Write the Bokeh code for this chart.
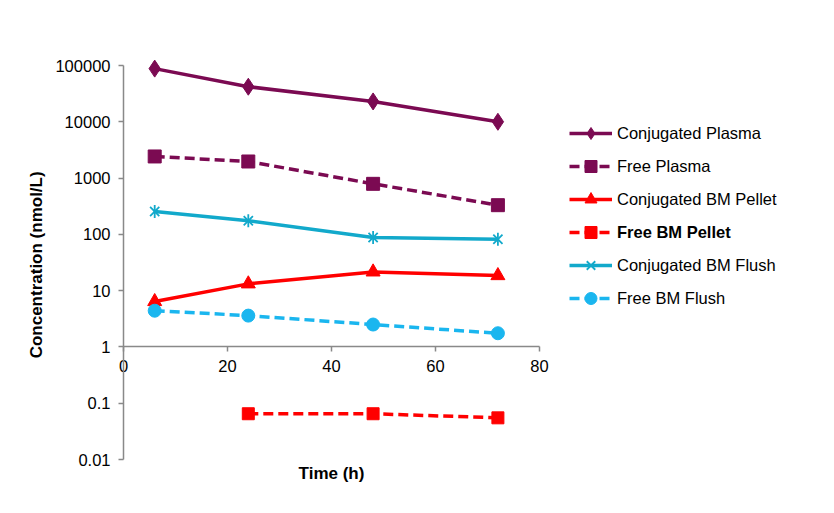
import numpy as np
from bokeh.plotting import figure
from bokeh.models import (Range1d, FixedTicker, LinearAxis, LogAxis, CustomJSTickFormatter,
                          Legend, LegendItem, Label)
from bokeh.embed import file_html
from bokeh.resources import INLINE

time_h = [6, 24, 48, 72]
conj_plasma = [88000, 42000, 23000, 10000]
free_plasma = [2420, 1970, 790, 330]
conj_bm_pellet = [6.4, 13.2, 21.5, 18.5]
free_bm_pellet_t = [24, 48, 72]
free_bm_pellet = [0.065, 0.065, 0.055]
conj_bm_flush = [255, 175, 88, 82]
free_bm_flush = [4.4, 3.6, 2.5, 1.75]

y_ticks = [0.01, 0.1, 1, 10, 100, 1000, 10000, 100000]
x_ticks = [0, 20, 40, 60, 80]

PURPLE = "#7B0A52"
RED = "#FF0000"
TEAL = "#12A9CB"
LBLUE = "#1AB6EF"
FONT = "Liberation Sans"
FS = "16.5px"

W, H = 818, 497
AX_X, AX_TOP, AX_BOT = 123, 65, 459      # pixel positions of y-axis, 1e5 and 0.01
PX_PER_X = 416 / 80
PX_PER_DEC = (AX_BOT - AX_TOP) / 7
x0 = -AX_X / PX_PER_X
x1 = (W - AX_X) / PX_PER_X
ytop = 10 ** (5 + AX_TOP / PX_PER_DEC)
ybot = 10 ** (-2 - (H - AX_BOT) / PX_PER_DEC)

p = figure(frame_width=W, frame_height=H, y_axis_type="log",
           x_range=Range1d(x0, x1), y_range=Range1d(ybot, ytop),
           output_backend="svg", toolbar_location=None,
           min_border=0, x_axis_location=None, y_axis_location=None)
p.outline_line_color = None
p.xgrid.visible = False
p.ygrid.visible = False
p.background_fill_color = "white"

GRAY = "#898989"


def style(ax):
    ax.major_label_text_font = FONT
    ax.major_label_text_font_size = FS
    ax.major_label_text_color = "black"
    ax.major_label_standoff = 8
    ax.major_tick_in = 0
    ax.major_tick_out = 5
    ax.minor_tick_line_color = None
    ax.axis_line_color = GRAY
    ax.major_tick_line_color = GRAY
    ax.axis_line_width = 1.5
    ax.major_tick_line_width = 1.5


ya = LogAxis(ticker=FixedTicker(ticks=y_ticks, minor_ticks=[]), fixed_location=0,
             bounds=(0.01, 100000))
ya.formatter = CustomJSTickFormatter(code="return tick.toString();")
ya.axis_label = "Concentration  (nmol/L)"
ya.axis_label_text_font = FONT
ya.axis_label_text_font_style = "bold"
ya.axis_label_text_font_size = "17px"
ya.axis_label_text_color = "black"
ya.axis_label_standoff = 6
style(ya)
p.add_layout(ya, "left")

xa = LinearAxis(ticker=FixedTicker(ticks=x_ticks, minor_ticks=[]), fixed_location=1,
                bounds=(0, 80))
style(xa)
p.add_layout(xa, "below")

p.add_layout(Label(x=40, y=H - 473, x_units="data", y_units="screen", text="Time (h)",
                   text_font=FONT, text_font_style="bold", text_font_size="17px",
                   text_color="black", text_align="center", text_baseline="middle"))

LW = 3.5
DASH = "10 5"

r1 = p.line(time_h, conj_plasma, color=PURPLE, line_width=LW)
m1 = p.scatter(time_h, conj_plasma, marker="diamond", size=17, color=PURPLE)

r2 = p.line(time_h, free_plasma, color=PURPLE, line_width=LW, line_dash=DASH)
m2 = p.scatter(time_h, free_plasma, marker="square", size=13, color=PURPLE)

r3 = p.line(time_h, conj_bm_pellet, color=RED, line_width=LW)
m3 = p.scatter(time_h, conj_bm_pellet, marker="triangle", size=14, color=RED)

r4 = p.line(free_bm_pellet_t, free_bm_pellet, color=RED, line_width=LW, line_dash=DASH)
m4 = p.scatter(free_bm_pellet_t, free_bm_pellet, marker="square", size=12, color=RED)

r5 = p.line(time_h, conj_bm_flush, color=TEAL, line_width=LW)
m5a = p.scatter(time_h, conj_bm_flush, marker="x", size=13, line_color=TEAL, line_width=1.8)
m5b = p.scatter(time_h, conj_bm_flush, marker="dash", size=13, angle=np.pi / 2,
                line_color=TEAL, line_width=1.8)

r6 = p.line(time_h, free_bm_flush, color=LBLUE, line_width=LW, line_dash=DASH)
m6 = p.scatter(time_h, free_bm_flush, marker="circle", size=13, color=LBLUE)

GH = 30
groups = [
    ([("Conjugated Plasma", [r1, m1]), ("Free Plasma", [r2, m2]),
      ("Conjugated BM Pellet", [r3, m3])], "normal", 214),
    ([("Free BM Pellet", [r4, m4])], "bold", 247),
    ([("Conjugated BM Flush", [r5, m5a, m5b]), ("Free BM Flush", [r6, m6])],
     "normal", 313),
]
for its, fstyle, bottom in groups:
    leg = Legend(items=[LegendItem(label=l, renderers=r) for l, r in its],
                 location=(569, H - bottom))
    leg.border_line_color = None
    leg.background_fill_alpha = 0
    leg.padding = 0
    leg.margin = 0
    leg.glyph_width = 43
    leg.glyph_height = GH
    leg.label_height = GH
    leg.spacing = 33 - GH
    leg.label_standoff = 5
    leg.label_text_font = FONT
    leg.label_text_font_size = FS
    leg.label_text_font_style = fstyle
    leg.label_text_color = "black"
    p.add_layout(leg, "center")

open("out.html", "w").write(file_html(p, INLINE))
